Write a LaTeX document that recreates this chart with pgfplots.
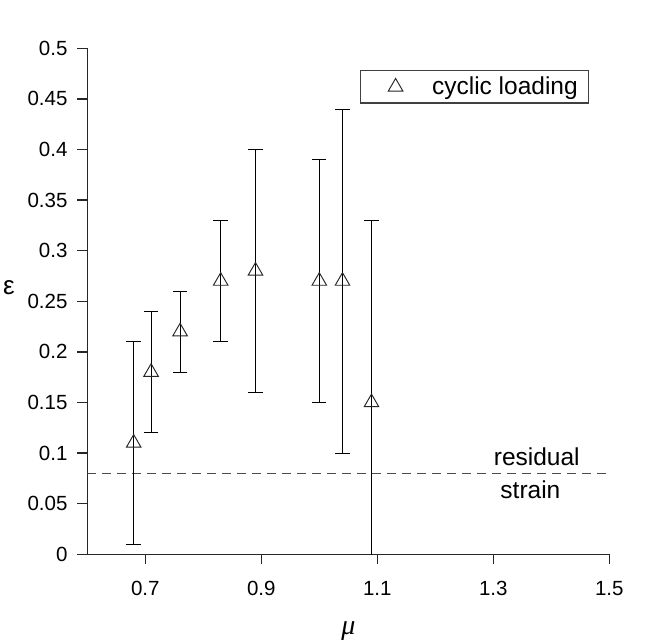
\documentclass[border=0pt]{standalone}
\usepackage{pgfplots}
\pgfplotsset{compat=1.18}
\usepackage{pgfplotstable}
\usepackage{fontspec}
\setmainfont{Liberation Sans}
\newfontfamily\serifgreek{Liberation Serif}
\pgfplotstableread{
x y e
0.68 0.11 0.10
0.71 0.18 0.06
0.76 0.22 0.04
0.83 0.27 0.06
0.89 0.28 0.12
1.00 0.27 0.12
1.04 0.27 0.17
1.09 0.15 0.18
}\cyclic
\begin{document}
\begin{tikzpicture}
\useasboundingbox[fill=white] (-87.3pt,-86.7pt) rectangle (584.7pt,554.3pt);
\begin{axis}[
  scale only axis, width=522pt, height=506pt,
  at={(0pt,0pt)}, anchor=south west,
  xmin=0.6, xmax=1.5, ymin=0, ymax=0.5,
  axis lines*=left,
  axis line style={line width=1.3pt, black!85},
  tick align=outside, major tick length=10pt,
  tick style={line width=1.3pt, black!85},
  xtick={0.7,0.9,1.1,1.3,1.5},
  xticklabels={0.7,0.9,1.1,1.3,1.5},
  ytick={0,0.05,0.1,0.15,0.2,0.25,0.3,0.35,0.4,0.45,0.5},
  yticklabels={0,0.05,0.1,0.15,0.2,0.25,0.3,0.35,0.4,0.45,0.5},
  xticklabel style={font=\fontsize{20.5}{24}\selectfont, anchor=north, inner sep=0pt, yshift=-16.5pt},
  yticklabel style={font=\fontsize{20.5}{24}\selectfont, anchor=east, inner sep=0pt, xshift=-9.6pt},
  xlabel={{\serifgreek\itshape μ}},
  xlabel style={font=\fontsize{28}{30}\selectfont, at={(axis description cs:0.5,0)}, anchor=center, yshift=-77pt},
  ylabel={ε},
  ylabel style={font=\fontsize{26}{28}\selectfont, rotate=-90, at={(axis description cs:0,0.528)}, anchor=center, xshift=-78.3pt},
  legend style={at={(rel axis cs:0.961,0.957)}, anchor=north east, draw=black!75, line width=1.3pt,
    inner xsep=27.5pt, inner ysep=6.5pt, font=\fontsize{24.5}{29}\selectfont,
    nodes={inner sep=0pt}, column sep=29.2pt},
  legend cell align=left,
]
\addplot[forget plot, dash pattern=on 9pt off 6pt, line width=1pt, black!70] coordinates {(0.6,0.08) (1.5,0.08)};
\addplot[only marks, mark=triangle, mark size=8.4pt,
  mark options={fill=white, draw=black!85, line width=0.95pt, solid},
  error bars/.cd, y dir=both, y explicit,
  error bar style={line width=0.9pt, black},
  error mark options={rotate=90, mark size=7.2pt, line width=0.9pt, black}]
  table[x=x, y=y, y error=e] {\cyclic};
\addlegendentry{cyclic loading\hspace*{-17pt}}
\node[anchor=base, font=\fontsize{24.5}{29}\selectfont] at (axis cs:1.375,0.0873) {residual};
\node[anchor=base, font=\fontsize{24.5}{29}\selectfont] at (axis cs:1.364,0.0556) {strain};
\end{axis}
\end{tikzpicture}
\end{document}
